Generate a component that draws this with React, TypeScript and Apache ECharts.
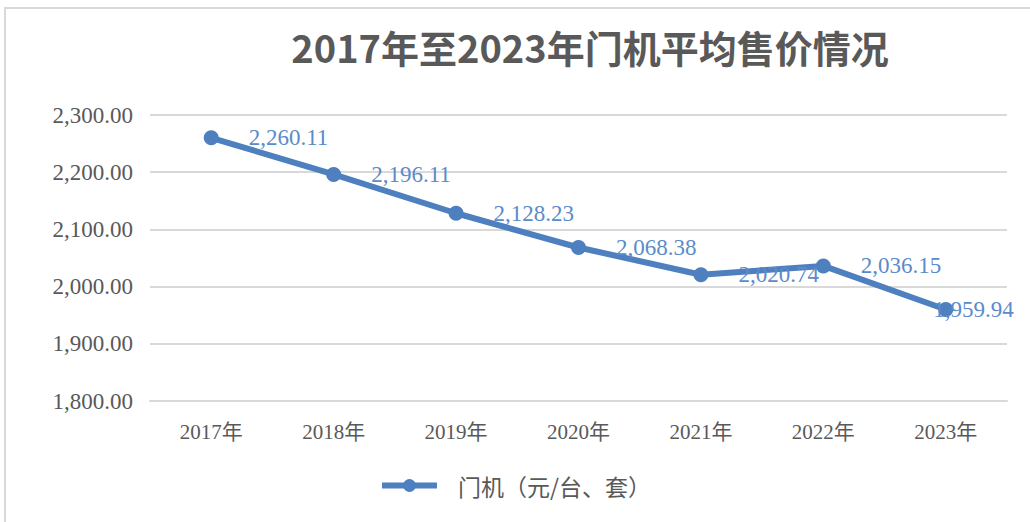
import React, { useEffect, useRef } from "react";
import * as echarts from "echarts";

const titleText = "2017年至2023年门机平均售价情况";
const seriesName = "门机（元/台、套）";
const categories = ["2017年", "2018年", "2019年", "2020年", "2021年", "2022年", "2023年"];
const prices = [2260.11, 2196.11, 2128.23, 2068.38, 2020.74, 2036.15, 1959.94];
const yMin = 1800;
const yMax = 2300;
const yStep = 100;

const fmt = (v: number) =>
  v.toLocaleString("en-US", { minimumFractionDigits: 2, maximumFractionDigits: 2 });

export default function App() {
  const ref = useRef<HTMLDivElement>(null);
  useEffect(() => {
    if (!ref.current) return;
    const chart = echarts.init(ref.current, null, { renderer: "svg" });
    const lineColor = "#4e7fbf";
    const labelColor = "#5b8bc9";
    const serif = "'Liberation Serif', 'Noto Sans CJK SC', serif";
    chart.setOption({
      animation: false,
      backgroundColor: "#ffffff",
      title: {
        text: titleText,
        left: 585,
        textAlign: "center",
        top: 22,
        textStyle: {
          fontFamily: "'Noto Sans CJK SC', sans-serif",
          fontWeight: "bold",
          fontSize: 38,
          color: "#595959",
        },
      },
      graphic: [
        {
          type: "rect",
          shape: { x: 5, y: 8, width: 1100, height: 600 },
          style: { fill: "none", stroke: "#d9d9d9", lineWidth: 2 },
          silent: true,
        },
      ],
      legend: {
        data: [seriesName],
        left: "center",
        top: 469,
        itemWidth: 55,
        itemHeight: 16,
        itemGap: 10,
        lineStyle: { width: 6, color: lineColor },
        itemStyle: { color: lineColor },
        textStyle: {
          fontFamily: "'Noto Sans CJK SC', sans-serif",
          fontSize: 23,
          color: "#595959",
          padding: [0, 0, 0, 16],
        },
      },
      grid: { left: 150, right: 23, top: 115, bottom: 121 },
      xAxis: {
        type: "category",
        data: categories,
        boundaryGap: true,
        axisLine: { show: true, lineStyle: { color: "#d9d9d9", width: 2 } },
        axisTick: { show: false },
        axisLabel: {
          margin: 20,
          fontFamily: serif,
          fontSize: 21,
          color: "#595959",
        },
      },
      yAxis: {
        type: "value",
        min: yMin,
        max: yMax,
        interval: yStep,
        axisLine: { show: false },
        axisTick: { show: false },
        splitLine: { lineStyle: { color: "#d9d9d9", width: 2 } },
        axisLabel: {
          margin: 17,
          fontFamily: serif,
          fontSize: 23,
          color: "#595959",
          formatter: (v: number) => fmt(v),
        },
      },
      series: [
        {
          name: seriesName,
          type: "line",
          data: prices.map((v, i) =>
            i === prices.length - 1
              ? { value: v, label: { offset: [-50, 0] } }
              : { value: v }
          ),
          symbol: "circle",
          symbolSize: 15,
          lineStyle: { color: lineColor, width: 6 },
          itemStyle: { color: lineColor },
          label: {
            show: true,
            position: "right",
            distance: 30,
            fontFamily: serif,
            fontSize: 23,
            color: labelColor,
            formatter: (p: any) => fmt(p.value),
          },
        },
      ],
    });
    return () => chart.dispose();
  }, []);
  return (
    <div
      ref={ref}
      style={{ position: "fixed", left: 0, top: 0, width: 1030, height: 522 }}
    />
  );
}
